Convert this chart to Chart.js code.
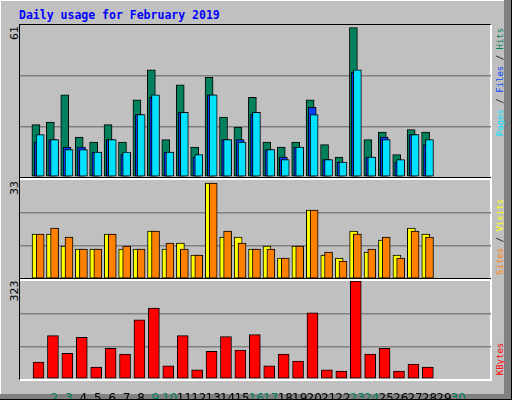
<!DOCTYPE html>
<html><head><meta charset="utf-8">
<script src="https://cdn.jsdelivr.net/npm/chart.js@4/dist/chart.umd.min.js"></script>
<style>
body{margin:0;}
#root{position:relative;width:512px;height:400px;background:#C0C0C0;overflow:hidden;font-family:"DejaVu Sans",sans-serif;}
.abs{position:absolute;}
.rot{position:absolute;transform:translate(-50%,-50%) rotate(-90deg);white-space:nowrap;}
.mono{font-family:"DejaVu Sans Mono",monospace;}
</style></head><body>
<div id="root">
  <div class="abs" style="left:0;top:0;width:510px;height:1px;background:#fff"></div>
  <div class="abs" style="left:0;top:0;width:1px;height:398px;background:#fff"></div>
  <div class="abs" style="left:504px;top:0;width:8px;height:400px;background:#808080"></div>
  <div class="abs" style="left:0;top:394px;width:512px;height:6px;background:#808080"></div>
  <div class="abs" style="left:511px;top:0;width:1px;height:400px;background:#000"></div>
  <div class="abs" style="left:0;top:399px;width:512px;height:1px;background:#000"></div>
  <div class="abs mono" style="left:19px;top:8px;font-size:11.5px;font-weight:bold;color:#0000FF">Daily usage for February 2019</div>
  <div class="abs" style="left:19px;top:24px;width:470px;height:354px;border-top:1px solid #000;border-left:1px solid #000;border-right:2px solid #fff;border-bottom:2px solid #fff"></div>
  <div class="abs" style="left:20px;top:177px;width:471px;height:1px;background:#000"></div>
  <div class="abs" style="left:20px;top:178px;width:471px;height:2px;background:#fff"></div>
  <div class="abs" style="left:20px;top:278px;width:471px;height:1px;background:#000"></div>
  <div class="abs" style="left:20px;top:279px;width:471px;height:2px;background:#fff"></div>
  <div class="rot" style="left:14px;top:33px;font-size:11px">61</div>
  <div class="rot" style="left:14px;top:188px;font-size:11px">33</div>
  <div class="rot" style="left:14px;top:291px;font-size:11px">323</div>
  <div class="rot mono" style="left:500px;top:82px;font-size:9px"><span style="color:#00E0FF">Pages</span> / <span style="color:#0040FF">Files</span> / <span style="color:#00805C">Hits</span></div>
  <div class="rot mono" style="left:500px;top:237px;font-size:9px"><span style="color:#FF8000">Sites</span> / <span style="color:#FFFF00">Visits</span></div>
  <div class="rot mono" style="left:500px;top:359px;font-size:9px;color:#FF0000">KBytes</div>
  <canvas id="c1" class="abs" style="left:20px;top:25px;width:471px;height:152px"></canvas>
  <canvas id="c2" class="abs" style="left:20px;top:180px;width:471px;height:99px"></canvas>
  <canvas id="c3" class="abs" style="left:20px;top:281px;width:471px;height:118px"></canvas>
</div>
<script>
const days = [1,2,3,4,5,6,7,8,9,10,11,12,13,14,15,16,17,18,19,20,21,22,23,24,25,26,27,28,29,30,31];
const weekendDays = [2,3,9,10,16,17,23,24,30,31];
const hits  = [21,22,33,16,14,21,14,31,43,15,37,12,40,24,20,32,14,12,14,31,13,8,60,15,18,9,19,18,0,0,0];
const files = [14,15,12,12,10,15,9,25,32,10,26,8,33,15,15,25,11,8,12,28,7,6,42,8,16,6,17,13,0,0,0];
const pages = [17,15,11,11,10,15,10,25,33,10,26,9,33,15,14,26,11,7,12,25,7,6,43,8,15,7,17,15,0,0,0];
const visits = [15,15,11,10,10,15,10,10,16,10,12,8,32,14,14,10,11,7,11,23,8,7,16,9,13,8,17,15,0,0,0];
const sites  = [15,17,14,10,10,15,11,10,16,12,10,8,32,16,12,10,10,7,11,23,9,6,15,10,14,7,16,14,0,0,0];
const kbytes = [56,143,85,137,39,101,82,195,234,43,143,30,91,140,95,146,43,82,59,218,30,26,323,82,101,26,49,39,0,0,0];
const maxTop = 61, maxMid = 33, maxBot = 323;

const XMIN = 0.128, XMAX = 31.74, PX = 471/(XMAX-XMIN);
function xAxis(shiftPx, show){
  const s = shiftPx/PX;
  return {type:'linear', display:!!show, min:XMIN - s, max:XMAX - s,
    grid:{display:false}, border:{display:false},
    ticks:{stepSize:1, autoSkip:false, padding:5, maxRotation:0,
      font:{family:'DejaVu Sans', size:12},
      color:c=>weekendDays.includes(c.tick.value)?'#008060':'#000',
      callback:v=>days.includes(v)?String(v):''},
    afterFit:sc=>{ if(show) sc.height=20; }};
}
function yAxis(max){
  return {min:0, max:max, display:true, border:{display:false},
    ticks:{display:false, stepSize:max/3}, afterFit:sc=>{sc.width=0;},
    grid:{drawTicks:false, lineWidth:1.5, color:c=>(c.tick.value>0&&c.tick.value<max-0.01)?'#808080':'rgba(0,0,0,0)'}};
}
function ds(data, color, xid, w){
  return {data:days.map((d,i)=>({x:d,y:data[i]})), backgroundColor:color, borderColor:'#000',
    borderWidth:1, borderSkipped:false, barThickness:w, grouped:false, xAxisID:xid, yAxisID:'y'};
}
const base = {responsive:false, animation:false, devicePixelRatio:1,
  layout:{padding:0}, plugins:{legend:{display:false}, tooltip:{enabled:false}}};
function mk(id, w, h, datasets, scales){
  const cv = document.getElementById(id); cv.width=w; cv.height=h;
  new Chart(cv, {type:'bar', data:{datasets}, options:Object.assign({}, base, {scales})});
}
mk('c1', 471, 152,
  [ds(pages,'#00E0FF','xp',8), ds(files,'#0040FF','xf',8), ds(hits,'#00805C','xh',8)],
  {xh:xAxis(-4.2), xf:xAxis(-2), xp:xAxis(0), y:yAxis(maxTop)});
mk('c2', 471, 99,
  [ds(sites,'#FF8000','xs',8), ds(visits,'#FFFF00','xv',8)],
  {xv:xAxis(-4), xs:xAxis(0), y:yAxis(maxMid)});
mk('c3', 471, 118,
  [ds(kbytes,'#FF0000','xk',11)],
  {x:xAxis(0,true), xk:xAxis(-1.7), y:yAxis(maxBot)});
</script>
</body></html>
